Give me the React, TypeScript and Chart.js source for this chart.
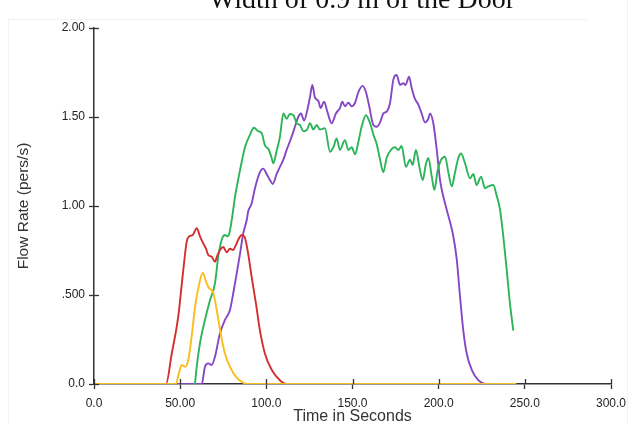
import React, { useEffect, useRef } from "react";
import { Chart, registerables } from "chart.js";

Chart.register(...registerables);

const chartTitle = "Width of 0.9 m of the Door";
const xAxisTitle = "Time in Seconds";
const yAxisTitle = "Flow Rate (pers/s)";

const xTickValues = [0, 50, 100, 150, 200, 250, 300];
const xTickLabels = ["0.0", "50.00", "100.0", "150.0", "200.0", "250.0", "300.0"];
const yTickValues = [0, 0.5, 1, 1.5, 2];
const yTickLabels = ["0.0", ".500", "1.00", "1.50", "2.00"];

// [time (s), flow rate (pers/s)]
const redSeries: [number, number][] = [
  [0, 0], [41.8, 0], [45.1, 0.17], [48.9, 0.38], [51.8, 0.64], [53.8, 0.8], [55.3, 0.83],
  [57.3, 0.837], [59.6, 0.875], [61.5, 0.83], [63.4, 0.79], [65, 0.76], [66.3, 0.725],
  [68.3, 0.715], [70.2, 0.687], [71.5, 0.72], [73.1, 0.753], [75, 0.77], [77, 0.74],
  [78.9, 0.76], [80.8, 0.753], [82.3, 0.78], [83.7, 0.81], [85.7, 0.837], [87.6, 0.82],
  [89.5, 0.73], [91.5, 0.6], [94, 0.45], [96.3, 0.3], [99.2, 0.17], [103.1, 0.08],
  [108, 0.02], [112, 0], [245, 0],
];

const yellowSeries: [number, number][] = [
  [0, 0], [47.6, 0], [49, 0.05], [50.9, 0.107], [52.8, 0.097], [54.7, 0.135], [56.7, 0.27],
  [58.6, 0.43], [61.1, 0.565], [63.1, 0.625], [65, 0.575], [66.9, 0.537], [68.9, 0.52],
  [71.2, 0.416], [73.5, 0.285], [76, 0.17], [78.9, 0.097], [82.4, 0.04], [86.6, 0.007],
  [89, 0], [245, 0],
];

const greenSeries: [number, number][] = [
  [58.6, 0], [59.6, 0.097], [61.5, 0.23], [64.4, 0.36], [67.3, 0.47], [70.2, 0.565],
  [72.1, 0.715], [74.1, 0.81], [76, 0.837], [77.4, 0.83], [78.5, 0.846], [79.9, 0.92],
  [81.8, 1.05], [84.7, 1.2], [87.6, 1.33], [90.5, 1.4], [92.8, 1.44], [95.3, 1.42],
  [97.3, 1.41], [99.2, 1.34], [101.2, 1.32], [103.1, 1.27], [104, 1.24], [106, 1.31],
  [107.9, 1.39], [109.9, 1.52], [111.8, 1.49], [113.7, 1.517], [115.7, 1.51], [117.6, 1.465],
  [119.5, 1.455], [121.5, 1.42], [123.7, 1.43], [125.3, 1.465], [127.3, 1.43], [129.2, 1.455],
  [131.1, 1.43], [134, 1.437], [136.9, 1.305], [138.9, 1.33], [140.8, 1.38], [142.7, 1.315],
  [145.6, 1.37], [147.6, 1.315], [149.5, 1.33], [151.5, 1.29], [153.4, 1.36], [155.3, 1.445],
  [157.8, 1.51], [160.2, 1.465], [162.5, 1.39], [164, 1.35], [166, 1.26], [167.9, 1.19],
  [169.8, 1.27], [172.7, 1.32], [174.7, 1.33], [176.6, 1.315], [178.5, 1.337], [181, 1.22],
  [183.4, 1.26], [184.9, 1.23], [186.8, 1.315], [188.8, 1.22], [190.7, 1.146], [192.7, 1.24],
  [194, 1.27], [196, 1.165], [197.5, 1.09], [199.4, 1.2], [201.4, 1.26], [203.7, 1.277],
  [205.6, 1.19], [207.6, 1.11], [209.5, 1.19], [211.4, 1.27], [213, 1.295], [215.3, 1.24],
  [218.2, 1.155], [220.1, 1.18], [222, 1.118], [224.6, 1.165], [226.9, 1.1], [228.8, 1.11],
  [231.7, 1.118], [233.6, 1.06], [235.6, 0.98], [237.5, 0.83], [239.5, 0.64], [241.4, 0.45],
  [243.3, 0.3],
];

const purpleSeries: [number, number][] = [
  [0, 0], [62.5, 0], [64.4, 0.097], [66.3, 0.116], [68.3, 0.107], [70.2, 0.153], [73.1, 0.285],
  [76, 0.36], [78.9, 0.416], [80.8, 0.51], [82.8, 0.62], [84.7, 0.73], [86.6, 0.846],
  [88.6, 0.92], [89.5, 0.97], [91.5, 1.015], [93.4, 1.1], [96.3, 1.19], [98.2, 1.21],
  [100.2, 1.18], [102.1, 1.146], [103.7, 1.124], [106, 1.18], [107.9, 1.22], [109.9, 1.26],
  [111.8, 1.315], [114.7, 1.39], [116.6, 1.445], [118.5, 1.5], [120.1, 1.52], [121.9, 1.48],
  [123.8, 1.54], [125.3, 1.61], [126.7, 1.68], [128.2, 1.61], [130.2, 1.59], [131.5, 1.55],
  [133.5, 1.586], [135.4, 1.53], [137.9, 1.465], [140.4, 1.52], [142.7, 1.55], [144.1, 1.586],
  [145.6, 1.56], [147.6, 1.58], [149.5, 1.56], [151.5, 1.58], [153.4, 1.64], [155.9, 1.675],
  [157.8, 1.64], [159.7, 1.56], [162.1, 1.455], [164, 1.445], [166, 1.47], [167.9, 1.52],
  [169.8, 1.53], [171.8, 1.58], [173.7, 1.71], [175.6, 1.736], [177.6, 1.68], [179.5, 1.69],
  [180.8, 1.68], [182.8, 1.726], [184.4, 1.66], [186.3, 1.6], [188.2, 1.57], [190.1, 1.52],
  [192.1, 1.47], [194, 1.49], [195, 1.52], [196.9, 1.465], [198.9, 1.315], [200.8, 1.146],
  [203.7, 1.015], [206.6, 0.91], [208.5, 0.83], [210.5, 0.7], [212.4, 0.49], [214.3, 0.3],
  [216.3, 0.17], [219.2, 0.08], [223, 0.022], [228.6, 0], [245, 0],
];

const toPoints = (s: [number, number][]) => s.map(([x, y]) => ({ x, y }));

const innerTicks = {
  id: "innerTicks",
  afterDraw(chart: any) {
    const { ctx, chartArea, scales } = chart;
    ctx.save();
    ctx.strokeStyle = "#333";
    ctx.lineWidth = 1.3;
    const len = 5;
    for (const v of xTickValues) {
      const px = Math.round(scales.x.getPixelForValue(v)) + 0.5;
      ctx.beginPath();
      ctx.moveTo(px, chartArea.bottom);
      ctx.lineTo(px, chartArea.bottom - len);
      ctx.stroke();
    }
    for (const v of yTickValues) {
      const py = Math.round(scales.y.getPixelForValue(v)) + 0.5;
      ctx.beginPath();
      ctx.moveTo(chartArea.left, py);
      ctx.lineTo(chartArea.left + len, py);
      ctx.stroke();
    }
    ctx.restore();
  },
};

const sansFont = "'Liberation Sans', Arial, sans-serif";

export default function App() {
  const canvasRef = useRef<HTMLCanvasElement | null>(null);

  useEffect(() => {
    if (!canvasRef.current) return;
    const line = (data: [number, number][], color: string) => ({
      data: toPoints(data),
      borderColor: color,
      backgroundColor: color,
      borderWidth: 1.9,
      pointRadius: 0,
      fill: false,
      cubicInterpolationMode: "monotone" as const,
    });
    const chart = new Chart(canvasRef.current, {
      type: "line",
      data: {
        datasets: [
          line(yellowSeries, "#fbbd1f"),
          line(redSeries, "#d32f2f"),
          line(greenSeries, "#2cb45a"),
          line(purpleSeries, "#8548c4"),
        ],
      },
      plugins: [innerTicks],
      options: {
        animation: false,
        responsive: false,
        devicePixelRatio: 1,
        layout: { padding: { top: 28, right: 23, left: 0, bottom: 0 } },
        plugins: {
          legend: { display: false },
          title: { display: false },
          tooltip: { enabled: false },
        },
        scales: {
          x: {
            type: "linear",
            min: 0,
            max: 300,
            z: 1,
            afterFit: (s: any) => {
              s.height = 42;
            },
            afterBuildTicks: (s: any) => {
              s.ticks = xTickValues.map((value) => ({ value }));
            },
            ticks: {
              maxRotation: 0,
              autoSkip: false,
              padding: 7,
              color: "#222",
              font: { family: sansFont, size: 12 },
              callback: (v: any) => xTickLabels[xTickValues.indexOf(Number(v))] ?? "",
            },
            grid: {
              drawOnChartArea: false,
              drawTicks: true,
              tickLength: 5,
              tickColor: "#333",
              tickWidth: 1.3,
            },
            border: { display: true, color: "#333", width: 1.5 },
            title: {
              display: true,
              text: xAxisTitle,
              color: "#333",
              font: { family: sansFont, size: 16 },
              padding: { top: 0, bottom: 0 },
            },
          },
          y: {
            type: "linear",
            min: 0,
            max: 2,
            z: 1,
            afterFit: (s: any) => {
              s.width = 94;
            },
            afterBuildTicks: (s: any) => {
              s.ticks = yTickValues.map((value) => ({ value }));
            },
            ticks: {
              autoSkip: false,
              padding: 4,
              color: "#222",
              font: { family: sansFont, size: 12 },
              callback: (v: any) => yTickLabels[yTickValues.indexOf(Number(v))] ?? "",
            },
            grid: {
              drawOnChartArea: false,
              drawTicks: true,
              tickLength: 5,
              tickColor: "#333",
              tickWidth: 1.3,
            },
            border: { display: true, color: "#333", width: 1.5 },
            title: {
              display: true,
              text: yAxisTitle,
              color: "#333",
              font: { family: sansFont, size: 15.5 },
              padding: { top: 14, bottom: 0 },
            },
          },
        },
      },
    });
    return () => chart.destroy();
  }, []);

  return (
    <div
      style={{
        position: "fixed",
        left: 0,
        top: 0,
        width: 634,
        height: 424,
        overflow: "hidden",
        background: "#fff",
      }}
    >
      <div style={{ position: "absolute", left: 8, top: 19, width: 580, height: 1, background: "#f2f2f2" }} />
      <div style={{ position: "absolute", left: 8, top: 19, width: 1, height: 405, background: "#f2f2f2" }} />
      <div style={{ position: "absolute", left: 627, top: 0, width: 1, height: 424, background: "#f2f2f2" }} />
      <canvas
        ref={canvasRef}
        width={634}
        height={426}
        style={{ position: "absolute", left: 0, top: 0, width: 634, height: 426 }}
      />
      <div
        style={{
          position: "absolute",
          left: 362,
          top: -15,
          transform: "translateX(-50%)",
          whiteSpace: "nowrap",
          fontFamily: "'Liberation Serif', 'Times New Roman', serif",
          fontSize: 28,
          lineHeight: "28px",
          color: "#111",
        }}
      >
        {chartTitle}
      </div>
    </div>
  );
}
